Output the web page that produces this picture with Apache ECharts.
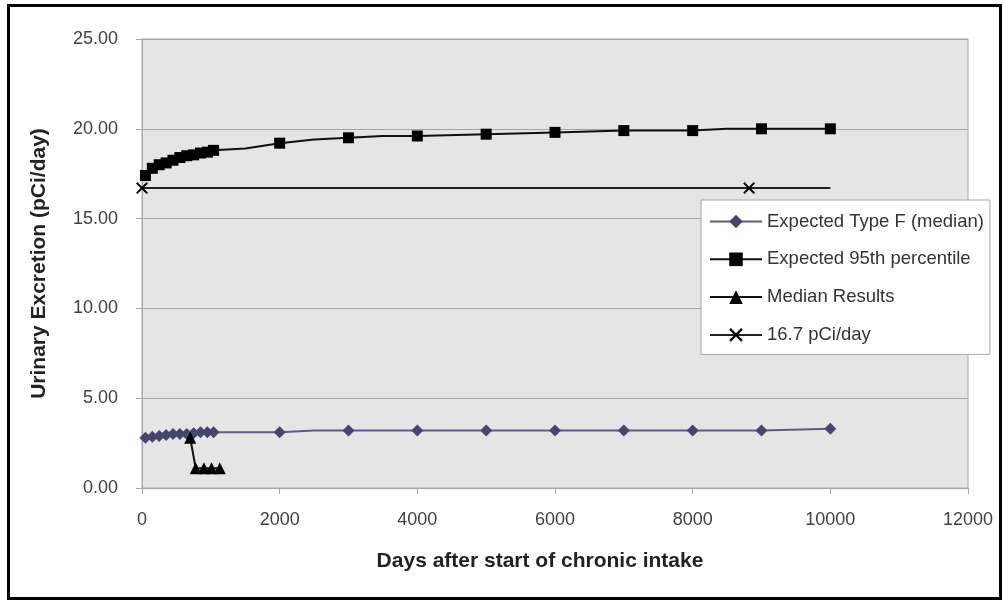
<!DOCTYPE html>
<html>
<head>
<meta charset="utf-8">
<script src="https://cdn.jsdelivr.net/npm/echarts@6/dist/echarts.min.js"></script>
<style>
html,body{margin:0;padding:0;background:#fff;}
#frame{position:absolute;left:7px;top:4px;width:995px;height:596px;border:3px solid #000;box-sizing:border-box;}
#chart{position:absolute;left:0;top:0;width:1004px;height:602px;}
</style>
</head>
<body>
<div id="frame"></div>
<div id="chart"></div>
<script>
// ---- data ----
const typeFDays   = [50, 150, 250, 350, 450, 550, 650, 750, 850, 950, 1040, 2000, 2500, 3000, 4000, 5000, 6000, 7000, 8000, 9000, 10000];
const typeFValues = [2.8, 2.85, 2.9, 2.95, 3.0, 3.0, 3.0, 3.05, 3.1, 3.1, 3.1, 3.1, 3.2, 3.2, 3.2, 3.2, 3.2, 3.2, 3.2, 3.2, 3.3];
const typeFNoMarkerDays = [2500];

const p95Days   = [50, 150, 250, 350, 450, 550, 650, 750, 850, 950, 1040, 1500, 2000, 2500, 3000, 3500, 4000, 5000, 6000, 7000, 8000, 8500, 9000, 10000];
const p95Values = [17.4, 17.8, 18.0, 18.1, 18.25, 18.4, 18.5, 18.55, 18.65, 18.7, 18.8, 18.9, 19.2, 19.4, 19.5, 19.6, 19.6, 19.7, 19.8, 19.9, 19.9, 20.0, 20.0, 20.0];
const p95NoMarkerDays = [1500, 2500, 3500, 8500];

const medianDays   = [700, 780, 900, 1010, 1130];
const medianValues = [2.8, 1.1, 1.1, 1.1, 1.1];

const refDays   = [0, 8820, 10000];
const refValues = [16.7, 16.7, 16.7];
const refNoMarkerDays = [10000];

const seriesNames = ['Expected Type F (median)', 'Expected 95th percentile', 'Median Results', '16.7 pCi/day'];
const xTitle = 'Days after start of chronic intake';
const yTitle = 'Urinary Excretion (pCi/day)';

function build(days, vals, noMarker) {
  return days.map((d, i) => {
    const item = { value: [d, vals[i]] };
    if (noMarker && noMarker.indexOf(d) >= 0) item.symbol = 'none';
    return item;
  });
}

const FONT = '"Liberation Sans", Arial, sans-serif';
const crossPath = 'path://M0,1.2L1.2,0L5,3.8L8.8,0L10,1.2L6.2,5L10,8.8L8.8,10L5,6.2L1.2,10L0,8.8L3.8,5Z';

const chart = echarts.init(document.getElementById('chart'), null, { renderer: 'canvas' });
chart.setOption({
  animation: false,
  backgroundColor: 'transparent',
  textStyle: { fontFamily: FONT },
  grid: {
    left: 142, right: 36, top: 39, bottom: 114,
    show: true, backgroundColor: '#e5e5e5', borderColor: '#a6a6a6', borderWidth: 1
  },
  xAxis: {
    type: 'value', min: 0, max: 12000, interval: 2000,
    name: xTitle, nameLocation: 'middle', nameGap: 63,
    nameTextStyle: { fontSize: 21, fontWeight: 'bold', color: '#222', fontFamily: FONT,
                     padding: [0, 30, 0, 0] },
    axisLine: { show: true, lineStyle: { color: '#a6a6a6', width: 1 } },
    axisTick: { show: true, length: 6, lineStyle: { color: '#a6a6a6' } },
    axisLabel: { fontSize: 18, color: '#404040', margin: 23, fontFamily: FONT,
                 formatter: v => String(v) },
    splitLine: { show: false }
  },
  yAxis: {
    type: 'value', min: 0, max: 25, interval: 5,
    name: yTitle, nameLocation: 'middle', nameGap: 92, nameRotate: 90,
    nameTextStyle: { fontSize: 21, fontWeight: 'bold', color: '#222', fontFamily: FONT },
    axisLine: { show: true, lineStyle: { color: '#a6a6a6', width: 1 } },
    axisTick: { show: true, length: 6, lineStyle: { color: '#a6a6a6' } },
    axisLabel: { fontSize: 18, color: '#404040', margin: 24, fontFamily: FONT,
                 formatter: v => v.toFixed(2) },
    splitLine: { show: true, lineStyle: { color: '#a6a6a6', width: 1 } }
  },
  legend: {
    orient: 'vertical', left: 701, top: 200,
    backgroundColor: '#fff', borderColor: '#a6a6a6', borderWidth: 1,
    padding: [12, 6, 10, 8], itemWidth: 52, itemHeight: 17, itemGap: 18.8, itemTextGap: 7,
    selectedMode: false,
    textStyle: { fontSize: 18.5, color: '#333', fontFamily: FONT },
    data: seriesNames
  },
  series: [
    {
      name: seriesNames[0], type: 'line', data: build(typeFDays, typeFValues, typeFNoMarkerDays),
      symbol: 'diamond', symbolSize: 12,
      lineStyle: { color: '#5c5c85', width: 2 }, itemStyle: { color: '#46466c' }, z: 2
    },
    {
      name: seriesNames[1], type: 'line', data: build(p95Days, p95Values, p95NoMarkerDays),
      symbol: 'rect', symbolSize: 11,
      lineStyle: { color: '#111', width: 2 }, itemStyle: { color: '#000' }, z: 3
    },
    {
      name: seriesNames[2], type: 'line', data: build(medianDays, medianValues),
      symbol: 'triangle', symbolSize: 12,
      lineStyle: { color: '#111', width: 2 }, itemStyle: { color: '#000' }, z: 4
    },
    {
      name: seriesNames[3], type: 'line', data: build(refDays, refValues, refNoMarkerDays),
      symbol: crossPath, symbolSize: 12,
      lineStyle: { color: '#222', width: 2 }, itemStyle: { color: '#000' }, z: 3
    }
  ]
});
</script>
</body>
</html>
